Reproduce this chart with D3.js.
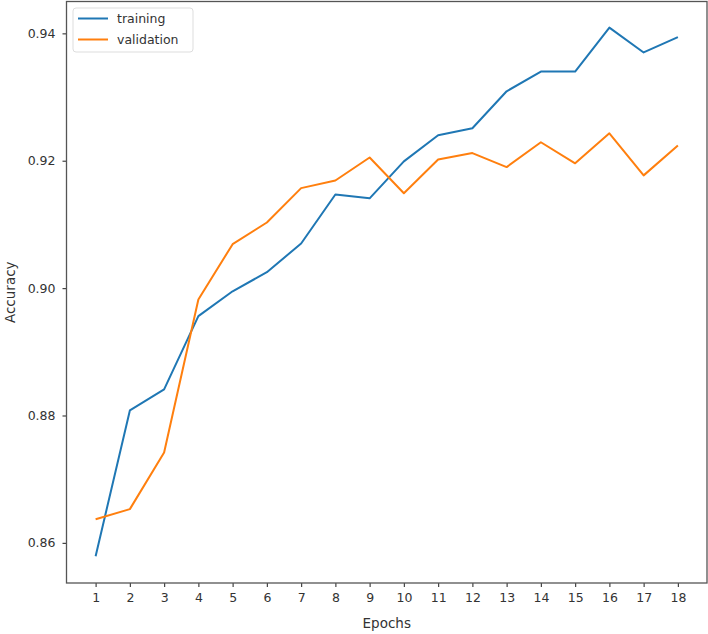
<!DOCTYPE html>
<html>
<head>
<meta charset="utf-8" />
<title>Accuracy</title>
<script src="https://d3js.org/d3.v7.min.js"></script>
<style>
  body { margin: 0; background: #fff; }
  svg { display: block; font-family: "DejaVu Sans", sans-serif; }
</style>
</head>
<body>
<script>
var epochs = [1, 2, 3, 4, 5, 6, 7, 8, 9, 10, 11, 12, 13, 14, 15, 16, 17, 18];
var training = [0.8579, 0.8808, 0.8841, 0.8956, 0.8995, 0.9025, 0.9070, 0.9147, 0.9141,
                0.9199, 0.9240, 0.9251, 0.9309, 0.9340, 0.9340, 0.9409, 0.9370, 0.9394];
var validation = [0.8637, 0.8653, 0.8742, 0.8982, 0.9069, 0.9103, 0.9157, 0.9169, 0.9205,
                  0.9149, 0.9202, 0.9212, 0.9190, 0.9229, 0.9196, 0.9243, 0.9177, 0.9224];
var yTicks = [0.86, 0.88, 0.90, 0.92, 0.94];
var seriesNames = ['training', 'validation'];

var width = 708, height = 634;
var margin = { left: 66.5, right: 1, top: 1.5, bottom: 51 };
var colors = ['#1f77b4', '#ff7f0e'];

var svg = d3.select('body').append('svg')
    .attr('width', width)
    .attr('height', height);

var x = d3.scaleLinear()
    .domain([0.15, 18.85])
    .range([margin.left, width - margin.right]);
var y = d3.scaleLinear()
    .domain([0.8537, 0.9450])
    .range([height - margin.bottom, margin.top]);

// lines
var line = d3.line()
    .x(function (d, i) { return x(epochs[i]); })
    .y(function (d) { return y(d); });

[training, validation].forEach(function (s, k) {
    svg.append('path')
        .datum(s)
        .attr('fill', 'none')
        .attr('stroke', colors[k])
        .attr('stroke-width', 2)
        .attr('stroke-linejoin', 'round')
        .attr('d', line);
});

// axes
var xAxis = svg.append('g')
    .attr('transform', 'translate(0,' + (height - margin.bottom) + ')')
    .call(d3.axisBottom(x).tickValues(epochs).tickSize(4).tickPadding(6).tickFormat(d3.format('d')));
var yAxis = svg.append('g')
    .attr('transform', 'translate(' + margin.left + ',0)')
    .call(d3.axisLeft(y).tickValues(yTicks).tickSize(4).tickPadding(7).tickFormat(d3.format('.2f')));

[xAxis, yAxis].forEach(function (a) {
    a.select('.domain').remove();
    a.selectAll('line').attr('stroke', '#444').attr('stroke-width', 1.2);
    a.selectAll('text').attr('fill', '#333').style('font-size', '12.5px').style('font-family', '"DejaVu Sans", sans-serif');
});

// frame
svg.append('rect')
    .attr('x', margin.left)
    .attr('y', margin.top)
    .attr('width', width - margin.left - margin.right)
    .attr('height', height - margin.top - margin.bottom)
    .attr('fill', 'none')
    .attr('stroke', '#555')
    .attr('stroke-width', 1.3);

// labels
svg.append('text')
    .attr('x', (margin.left + width - margin.right) / 2)
    .attr('y', 628)
    .attr('text-anchor', 'middle')
    .attr('fill', '#333')
    .style('font-size', '13.5px')
    .text('Epochs');
svg.append('text')
    .attr('transform', 'translate(15,' + ((margin.top + height - margin.bottom) / 2) + ') rotate(-90)')
    .attr('text-anchor', 'middle')
    .attr('fill', '#333')
    .style('font-size', '13.5px')
    .text('Accuracy');

// legend
var lg = svg.append('g').attr('transform', 'translate(73,8)');
lg.append('rect')
    .attr('width', 120).attr('height', 44).attr('rx', 3)
    .attr('fill', '#fff').attr('stroke', '#ddd');
seriesNames.forEach(function (n, k) {
    var yy = 10.5 + k * 21;
    lg.append('line')
        .attr('x1', 5).attr('x2', 35).attr('y1', yy).attr('y2', yy)
        .attr('stroke', colors[k]).attr('stroke-width', 2);
    lg.append('text')
        .attr('x', 44).attr('y', yy + 4.5)
        .attr('fill', '#333')
        .style('font-size', '12.5px')
        .text(n);
});
</script>
</body>
</html>
